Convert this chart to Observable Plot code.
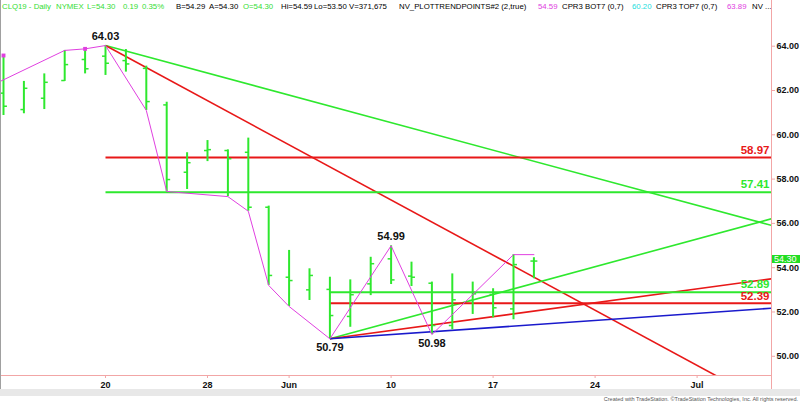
<!DOCTYPE html>
<html><head><meta charset="utf-8">
<script src="https://cdn.jsdelivr.net/npm/d3@7"></script>
<script src="https://cdn.jsdelivr.net/npm/@observablehq/plot@0.6"></script>
<style>
body{margin:0;background:#fff;font-family:"Liberation Sans",Arial,sans-serif;}
#wrap{position:relative;width:800px;height:402px;overflow:hidden;background:#fff;}
#hdr{position:absolute;left:0;top:0;width:800px;height:16px;font-size:7.8px;line-height:9px;font-family:"Liberation Sans",Arial,sans-serif;}
#hdr span{position:absolute;top:2px;white-space:nowrap;}
#chart{position:absolute;left:0;top:16px;}
#vline{position:absolute;left:771px;top:0;width:1px;height:389px;background:#f2a6a6;}
#lborder{position:absolute;left:0;top:0;width:1px;height:389px;background:#a0a0a0;}
#scroll{position:absolute;left:0;top:389px;width:800px;height:7px;background:#e8e8e8;}
#credit{position:absolute;right:2px;top:396px;font-size:5.5px;line-height:6px;color:#555;white-space:nowrap;}
#tag{position:absolute;left:772px;width:28px;height:8px;background:#22dd22;color:#fff;font-size:9px;line-height:8px;padding-left:2px;box-sizing:border-box;z-index:5;font-family:"Liberation Sans",Arial,sans-serif;}
.g{color:#33dd33}.m{color:#e040e0}.c{color:#22dddd}
</style></head>
<body>
<div id="wrap">
  <div id="hdr">
    <span class="g" style="left:2px">CLQ19 - Daily</span>
    <span class="g" style="left:56px">NYMEX</span>
    <span class="g" style="left:87px">L=54.30</span>
    <span class="g" style="left:123px">0.19</span>
    <span class="g" style="left:142px">0.35%</span>
    <span style="left:176px">B=54.29</span>
    <span style="left:209px">A=54.30</span>
    <span class="g" style="left:243px">O=54.30</span>
    <span style="left:281px">Hi=54.59</span>
    <span style="left:314px">Lo=53.50</span>
    <span style="left:349px">V=371,675</span>
    <span style="left:399px">NV_PLOTTRENDPOINTS#2 (2,true)</span>
    <span class="m" style="left:538px">54.59</span>
    <span style="left:562px">CPR3 BOT7 (0,7)</span>
    <span class="c" style="left:632px">60.20</span>
    <span style="left:656px">CPR3 TOP7 (0,7)</span>
    <span class="m" style="left:727px">63.89</span>
    <span style="left:752px">NV ...</span>
  </div>
  <div id="chart"></div>
  <div id="lborder"></div>
  <div id="vline"></div>
  <div id="scroll"></div>
  <div id="credit">Created with TradeStation. ©TradeStation Technologies, Inc. All rights reserved.</div>
  <div id="tag"></div>
</div>
<script>
// trading-day index (0 = May 20, 2019)
const dayIdx = [-5,-4,-3,-2,-1,0,1,2,3,4,5,6,7,8,9,10,11,12,13,14,15,16,17,18,19,20,21];
const openV  = [61.88,61.14,61.65,62.45,63.40,63.55,63.35,63.00,61.35,58.31,59.29,59.29,59.21,56.73,53.57,53.00,53.02,51.80,53.27,54.40,53.62,53.30,51.39,52.52,52.79,52.14,54.30];
const highV  = [63.58,62.41,62.75,63.81,63.88,64.03,63.85,63.10,61.47,59.19,59.74,59.32,59.85,56.78,54.78,53.95,53.57,53.45,54.47,54.99,54.25,53.35,53.72,53.35,53.05,54.59,54.45];
const lowV   = [60.87,60.95,61.14,62.41,62.75,62.68,62.83,61.10,57.44,57.53,58.79,57.21,56.55,53.20,52.25,52.52,50.79,51.31,52.74,53.24,53.15,50.98,51.20,51.89,51.74,51.65,53.50];
const closeV = [61.29,62.10,62.37,63.17,62.98,63.23,63.20,61.50,57.98,58.74,59.33,58.92,56.73,53.65,53.42,53.65,51.84,52.78,54.18,53.45,53.57,51.39,52.55,52.82,52.19,54.14,54.30];

// x-axis ticks
const xTickIdx = [0,5,9,14,19,24,29];
const xTickLbl = ["20","28","Jun","10","17","24","Jul"];
// y-axis ticks
const yTicks = [50,52,54,56,58,60,62,64];

// magenta trend-point zigzag
const zzIdx = [-6,-2,-1,0,2,3,6,7,8,9,11,14,16,20,21];
const zzVal = [62.04,63.81,63.88,64.03,61.10,57.44,57.21,56.55,53.20,52.25,50.79,54.99,50.98,54.59,54.59];
// trend point markers
const tpIdx = [-5,-1];
const tpVal = [63.58,63.88];

// pivot labels (highs above, lows below)
const pivHiIdx = [0,14];
const pivHiVal = [64.03,54.99];
const pivLoIdx = [11,16];
const pivLoVal = [50.79,50.98];

// horizontal levels
const lvlVal   = [58.97,57.41,52.89,52.39];
const lvlStart = [0,0,11,11];
const lvlColor = ["#e81818","#2ee82e","#2ee82e","#e81818"];

// trend lines: start idx, start price, end idx, end price
const tlX1 = [0,0,11,11,11];
const tlY1 = [64.03,64.03,50.79,50.79,50.79];
const tlX2 = [32.65,32.65,32.65,32.65,32.65];
const tlY2 = [55.91,47.77,56.21,53.50,52.17];
const tlColor = ["#2ee82e","#e81818","#2ee82e","#e81818","#1a1acc"];

const lastPrice = 54.30;

const GREEN = "#2ee82e", PINK = "#f2a6a6";
const xDom = [-5.147, 32.647];
const yDom = [49.133, 65.341];

const bars = dayIdx.map((d,k)=>({i:d,o:openV[k],h:highV[k],l:lowV[k],c:closeV[k]}));
const zz = zzIdx.map((d,k)=>({i:d,v:zzVal[k]}));
const tps = tpIdx.map((d,k)=>({i:d,v:tpVal[k]}));
const pivHi = pivHiIdx.map((d,k)=>({i:d,v:pivHiVal[k]}));
const pivLo = pivLoIdx.map((d,k)=>({i:d,v:pivLoVal[k]}));
const lvls = lvlVal.map((v,k)=>({v,s:lvlStart[k],e:xDom[1],col:lvlColor[k]}));
const tls = tlX1.map((d,k)=>({x1:d,y1:tlY1[k],x2:tlX2[k],y2:tlY2[k],col:tlColor[k]}));

const TICK = 0.17;
const FONT = "'Liberation Sans', Arial, sans-serif";

const plot = Plot.plot({
  width: 800, height: 374,
  marginLeft: 0, marginRight: 29, marginTop: 0, marginBottom: 15,
  x: {domain: xDom},
  y: {domain: yDom},
  style: {background: "transparent", fontFamily: FONT, overflow: "visible"},
  marks: [
    Plot.link(tls, {x1:"x1", y1:"y1", x2:"x2", y2:"y2", stroke: d=>d.col, strokeWidth: 1.6, clip: true}),
    Plot.link(lvls, {x1:"s", x2:"e", y1:"v", y2:"v", stroke: d=>d.col, strokeWidth: 2, clip: true}),
    Plot.ruleX(bars, {x:"i", y1:"l", y2:"h", stroke: GREEN, strokeWidth: 2, clip: true}),
    Plot.link(bars, {x1: d=>d.i - TICK, x2:"i", y1:"o", y2:"o", stroke: GREEN, strokeWidth: 1.5, clip: true}),
    Plot.link(bars, {x1:"i", x2: d=>d.i + TICK, y1:"c", y2:"c", stroke: GREEN, strokeWidth: 1.5, clip: true}),
    Plot.line(zz, {x:"i", y:"v", stroke:"#e040e0", strokeWidth: 1, clip: true}),
    Plot.dot(tps, {x:"i", y:"v", symbol:"square", r: 2.2, fill:"#e040e0", stroke: null}),
    Plot.text(pivHi, {x:"i", y:"v", text: d=>d.v.toFixed(2), dy: -9.5, fontSize: 11, fontWeight: "bold", fill: "#111"}),
    Plot.text(pivLo, {x:"i", y:"v", text: d=>d.v.toFixed(2), dy: 8.5, fontSize: 11, fontWeight: "bold", fill: "#111"}),
    Plot.text(lvls, {y:"v", frameAnchor:"right", dx:-2, dy:-7.5, textAnchor:"end", text: d=>d.v.toFixed(2), fill: d=>d.col, fontSize: 11.5, fontWeight:"bold"}),
    Plot.ruleY([yDom[0]], {stroke: PINK, strokeWidth: 1}),
    Plot.ruleX([xDom[1]], {stroke: PINK, strokeWidth: 1}),
    Plot.axisX(xTickIdx, {anchor:"bottom", tickSize: 3, tickPadding: 3, stroke: PINK, fill:"#111", fontSize: 9, fontWeight:"bold", tickFormat: (d)=>xTickLbl[xTickIdx.indexOf(d)]}),
    Plot.axisY(yTicks, {anchor:"right", tickSize: 3, tickPadding: 2, stroke: PINK, fill:"#111", fontSize: 9, fontWeight:"bold", tickFormat: d=>d.toFixed(2)})
  ]
});
document.getElementById("chart").appendChild(plot);

// last-price tag on the right axis, positioned with the plot's own y scale
const yp = plot.scale("y").apply(lastPrice);
const tag = document.getElementById("tag");
tag.style.top = (16 + yp - 6) + "px";
tag.textContent = lastPrice.toFixed(2);
</script>
</body></html>
